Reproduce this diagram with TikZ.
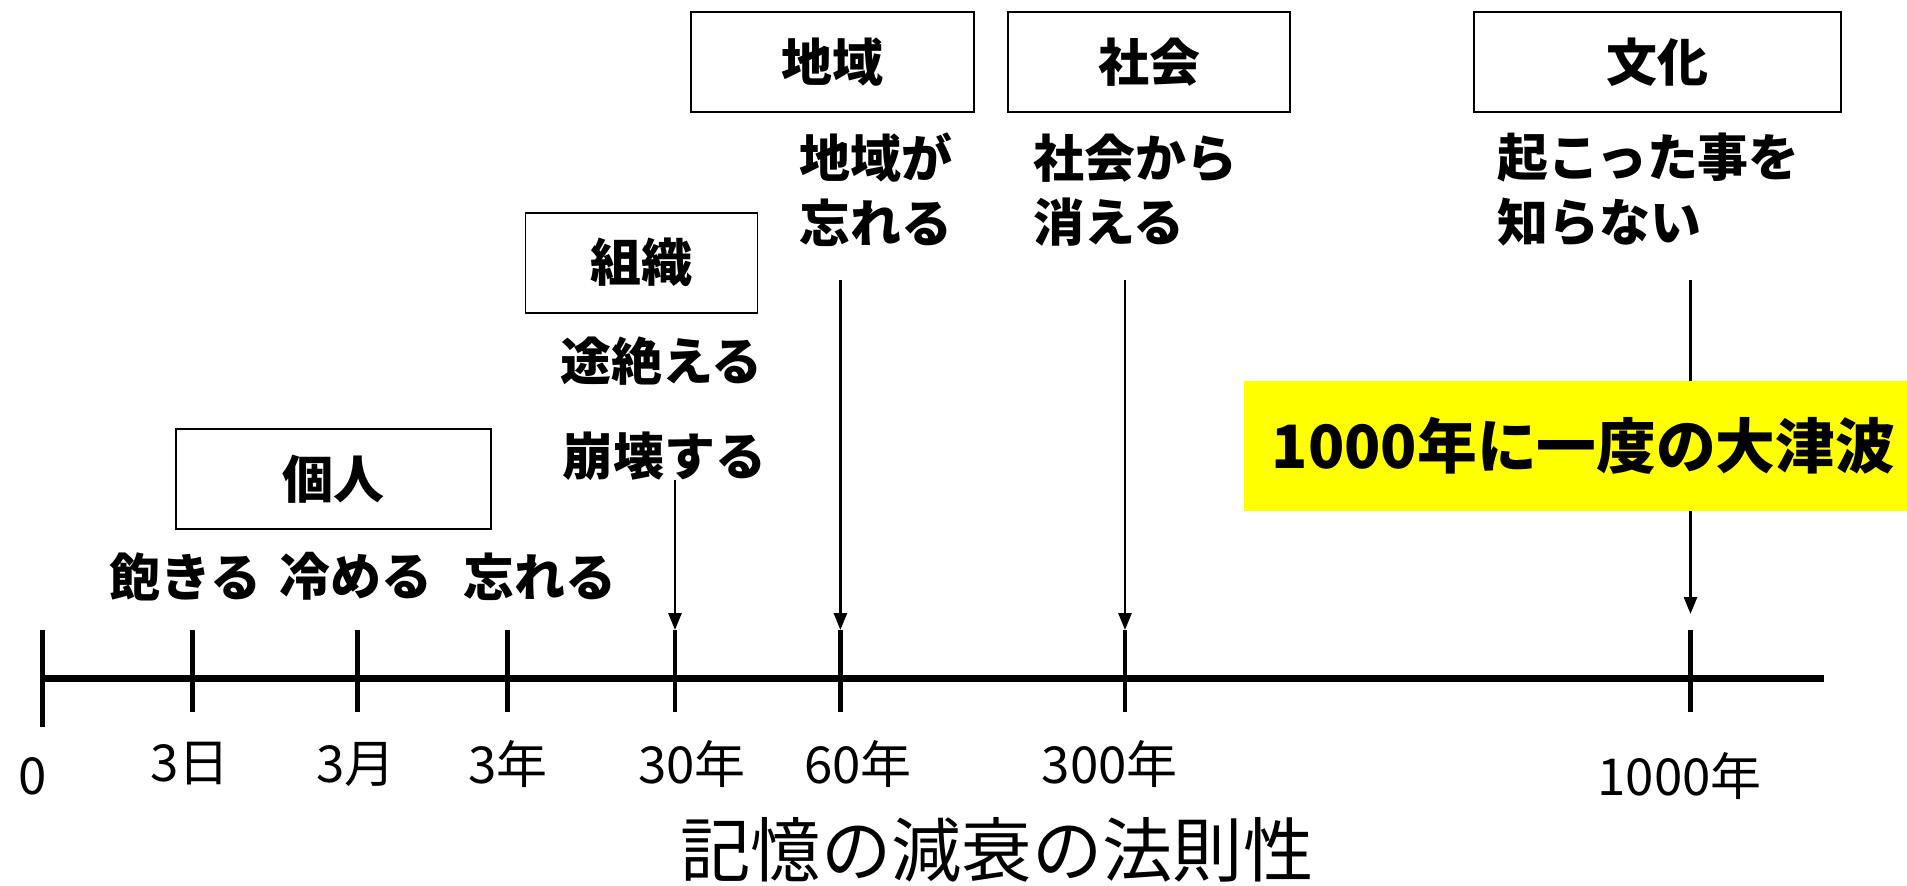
\documentclass[tikz,border=0pt]{standalone}
\usepackage{fontspec}
\setmainfont{Noto Sans CJK JP}
\usepackage{tikz}
\usetikzlibrary{arrows.meta}
\definecolor{tsunamiyellow}{RGB}{255,255,0}

\begin{document}
\begin{tikzpicture}[]
    \newcommand{\tickdown}[0]{ 0.815 }
    \tikzstyle{axis}=[line width=2pt,draw=black]
    \tikzstyle{tick}=[line width=1.4pt,draw=black]
    \tikzstyle{dedge}=[line width=0.8pt,-{Triangle[length=1.7mm,width=1.3mm]},draw=black]
    \tikzstyle{shared}=[
      inner sep=0pt,
      font=\fontsize{14.5}{18.4}\selectfont\bfseries,
    ]
    \tikzstyle{group}=[
      shared,
      draw=black,
      line width=0.5pt,
      minimum height=1.0cm,
    ]
    \tikzstyle{effect}=[
      shared,
      align=left,
    ]
    \tikzstyle{period}=[
      inner sep=0pt,
      font=\fontsize{14.5}{16}\selectfont,
    ]
    \tikzstyle{banner}=[
      fill=tsunamiyellow,
      inner xsep=0.28cm,
      text width=6.5cm,
      align=left,
      minimum height=1.30cm,
      font=\fontsize{17}{20}\selectfont\bfseries,
    ]
    \tikzstyle{title}=[
      inner sep=0pt,
      font=\fontsize{20}{24}\selectfont,
    ]

    \useasboundingbox (0,0) rectangle (19.07,-8.85);

    % time axis and ticks
    \coordinate (axis start) at (0.426,-6.786);
    \coordinate (axis end) at (18.24,-6.786);
    \coordinate (t0) at (0.426,-6.30);
    \coordinate (t3d) at (1.922,-6.30);
    \coordinate (t3m) at (3.576,-6.30);
    \coordinate (t3y) at (5.072,-6.30);
    \coordinate (t30) at (6.75,-6.30);
    \coordinate (t60) at (8.404,-6.30);
    \coordinate (t300) at (11.25,-6.30);
    \coordinate (t1000) at (16.905,-6.30);

    \draw[axis] (axis start) -- (axis end);
    \draw[tick] (t0) -- ++(0,-0.97);
    \draw[tick] (t3d) -- ++(0,-\tickdown);
    \draw[tick] (t3m) -- ++(0,-\tickdown);
    \draw[tick] (t3y) -- ++(0,-\tickdown);
    \draw[tick] (t30) -- ++(0,-\tickdown);
    \draw[tick] (t60) -- ++(0,-\tickdown);
    \draw[tick] (t300) -- ++(0,-\tickdown);
    \draw[tick] (t1000) -- ++(0,-\tickdown);

    \node[period] (zero) at (0.33,-7.76) {0};
    \node[period] (day) at (1.897,-7.64) {3日};
    \node[period] (month) at (3.563,-7.64) {3月};
    \node[period] (year) at (5.078,-7.64) {3年};
    \node[period] (thirty) at (6.92,-7.64) {30年};
    \node[period] (sixty) at (8.58,-7.64) {60年};
    \node[period] (threehundred) at (11.098,-7.64) {300年};
    \node[period] (thousand) at (16.796,-7.76) {1000年};

    \node[title] (law) at (9.97,-8.50) {記憶の減衰の法則性};

    % groups
    \node[group, minimum width=2.83cm] (region) at (8.325,-0.62) {地域};
    \node[group, minimum width=2.82cm] (society) at (11.493,-0.62) {社会};
    \node[group, minimum width=3.67cm] (culture) at (16.577,-0.62) {文化};
    \node[group, minimum width=2.32cm] (organization) at (6.416,-2.627) {組織};
    \node[group, minimum width=3.15cm] (individual) at (3.338,-4.792) {個人};

    % what happens
    \node[shared] (tire) at (1.855,-5.765) {飽きる};
    \node[shared] (cool) at (3.557,-5.765) {冷める};
    \node[shared] (forget) at (5.40,-5.765) {忘れる};
    \node[shared] (cease) at (6.616,-3.61) {途絶える};
    \node[shared] (collapse) at (6.646,-4.56) {崩壊する};
    \node[effect, anchor=west] (region forgets) at (7.99,-1.90) {地域が\\忘れる};
    \node[effect, anchor=west] (society loses) at (10.326,-1.90) {社会から\\消える};
    \node[effect, anchor=west] (unknown) at (14.97,-1.90) {起こった事を\\知らない};

    \coordinate (from thirty) at (6.75,-4.80);
    \coordinate (from sixty) at (8.404,-2.80);
    \coordinate (from threehundred) at (11.25,-2.80);
    \coordinate (from thousand) at (16.905,-2.80);

    \draw[dedge] (from thirty) -- (t30);
    \draw[dedge] (from sixty) -- (t60);
    \draw[dedge] (from threehundred) -- (t300);
    \draw[dedge, shorten >=0.16cm] (from thousand) -- (t1000);

    \node[banner, anchor=west] (tsunami) at (12.43,-4.46) {1000年に一度の大津波};
  \end{tikzpicture}
\end{document}
